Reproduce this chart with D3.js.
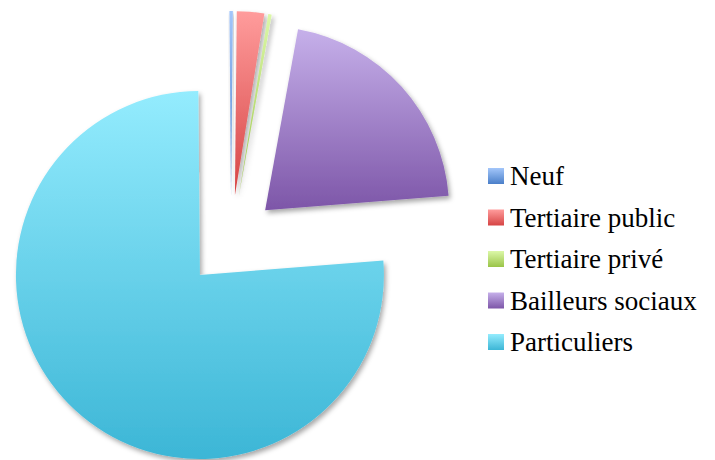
<!DOCTYPE html>
<html>
<head>
<meta charset="utf-8">
<script src="https://cdn.jsdelivr.net/npm/d3@7"></script>
<style>
  body { margin: 0; background: #fff; }
  svg { display: block; }
</style>
</head>
<body>
<div id="chart"></div>
<script>
// data
const categories = ["Neuf", "Tertiaire public", "Tertiaire privé", "Bailleurs sociaux", "Particuliers"];
const values = [0.3, 2.4, 0.3, 20.9, 76.1];
const colorsTop = ["#a3c6fa", "#ff9c9c", "#dcf8a8", "#c6b0ea", "#94ecfe"];
const colorsBottom = ["#4a7fc9", "#d64444", "#9ac448", "#7d56a8", "#3cb6d6"];

const width = 715, height = 460;
const cx = 231, cy = 241, radius = 184, explode = 46;

const svg = d3.select("#chart").append("svg")
    .attr("width", width)
    .attr("height", height);

const defs = svg.append("defs");

// soft drop shadow like the office chart
const shadow = defs.append("filter")
    .attr("id", "shadow")
    .attr("x", "-20%").attr("y", "-20%")
    .attr("width", "140%").attr("height", "140%");
shadow.append("feDropShadow")
    .attr("dx", 2).attr("dy", 3)
    .attr("stdDeviation", 2.5)
    .attr("flood-color", "#000")
    .attr("flood-opacity", 0.35);

categories.forEach((c, i) => {
    const g = defs.append("linearGradient")
        .attr("id", "grad" + i)
        .attr("x1", 0).attr("y1", 0)
        .attr("x2", 0).attr("y2", 1);
    g.append("stop").attr("offset", "0%").attr("stop-color", colorsTop[i]);
    g.append("stop").attr("offset", "100%").attr("stop-color", colorsBottom[i]);
});

const startAngle = -0.5 * Math.PI / 180;
const pie = d3.pie()
    .sort(null)
    .startAngle(startAngle)
    .endAngle(startAngle + 2 * Math.PI)
    .value(d => d);

const arc = d3.arc()
    .innerRadius(0)
    .outerRadius(radius);

const arcs = pie(values);

const pieG = svg.append("g")
    .attr("transform", "translate(" + cx + "," + cy + ")");

pieG.selectAll("path")
    .data(arcs)
    .join("path")
    .attr("d", arc)
    .attr("fill", (d, i) => "url(#grad" + i + ")")
    .attr("filter", "url(#shadow)")
    .attr("transform", d => {
        const a = (d.startAngle + d.endAngle) / 2;
        return "translate(" + (Math.sin(a) * explode) + "," + (-Math.cos(a) * explode) + ")";
    });

// legend
const legend = svg.append("g")
    .attr("transform", "translate(488,176)");

const rows = legend.selectAll("g")
    .data(categories)
    .join("g")
    .attr("transform", (d, i) => "translate(0," + (i * 41.5) + ")");

rows.append("rect")
    .attr("x", 0)
    .attr("y", -8)
    .attr("width", 16)
    .attr("height", 16)
    .attr("fill", (d, i) => "url(#grad" + i + ")");

rows.append("text")
    .attr("x", 22)
    .attr("y", 9)
    .style("font-family", "'Times New Roman', 'Liberation Serif', serif")
    .style("font-size", "27px")
    .attr("fill", "#000")
    .text(d => d);
</script>
</body>
</html>
